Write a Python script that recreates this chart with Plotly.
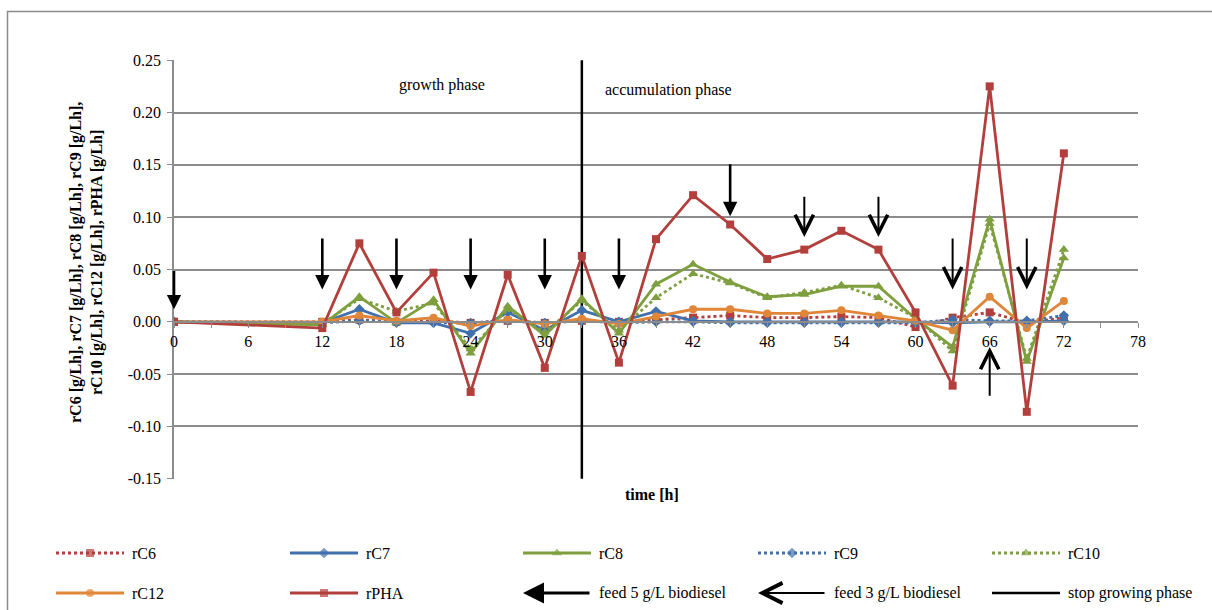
import plotly.graph_objects as go

# Figure size in pixels
W, H = 1212, 610

# Sampling times [h]
hours = [0, 12, 15, 18, 21, 24, 27, 30, 33, 36, 39, 42, 45, 48, 51, 54, 57, 60, 63, 66, 69, 72]

# Rates [g/Lh]
rC6 = [0.000, 0.000, 0.002, 0.000, 0.001, -0.001, 0.001, -0.001, 0.001, 0.000, 0.002,
       0.004, 0.006, 0.004, 0.004, 0.005, 0.004, -0.005, 0.004, 0.009, -0.001, 0.004]
rC7 = [0.000, -0.001, 0.012, -0.001, -0.001, -0.011, 0.009, -0.008, 0.011, 0.000, 0.010,
       0.001, 0.000, 0.000, 0.000, 0.000, 0.000, 0.000, -0.001, 0.000, 0.000, 0.001]
rC8 = [0.000, -0.003, 0.024, -0.001, 0.021, -0.030, 0.015, -0.013, 0.022, -0.011, 0.036,
       0.055, 0.038, 0.024, 0.026, 0.034, 0.034, 0.003, -0.024, 0.098, -0.038, 0.061]
rC9 = [0.000, -0.001, 0.001, 0.000, -0.001, -0.001, 0.001, -0.001, 0.001, -0.001, 0.000,
       0.000, -0.001, -0.001, -0.001, -0.001, -0.001, -0.001, 0.002, 0.001, 0.001, 0.006]
rC10 = [0.000, -0.002, 0.022, 0.010, 0.018, -0.026, 0.012, -0.010, 0.020, -0.008, 0.023,
        0.046, 0.037, 0.023, 0.028, 0.035, 0.023, 0.004, -0.028, 0.094, -0.035, 0.069]
rC12 = [0.000, 0.000, 0.006, 0.001, 0.004, -0.004, 0.002, -0.002, 0.003, -0.002, 0.005,
        0.012, 0.012, 0.008, 0.008, 0.011, 0.006, 0.001, -0.008, 0.024, -0.006, 0.020]
rPHA = [0.000, -0.006, 0.075, 0.009, 0.047, -0.067, 0.045, -0.044, 0.063, -0.039, 0.079,
        0.121, 0.093, 0.060, 0.069, 0.087, 0.069, 0.009, -0.061, 0.225, -0.086, 0.161]

# Feeding events: time, arrow tail and arrow tip (y values)
feed5_hours = [0, 12, 18, 24, 30, 36, 45]
feed5_tail = [0.050, 0.081, 0.081, 0.081, 0.081, 0.081, 0.152]
feed5_tip = [0.012, 0.031, 0.031, 0.031, 0.031, 0.031, 0.101]
feed3_hours = [51, 57, 63, 66, 69]
feed3_tail = [0.121, 0.121, 0.081, -0.072, 0.081]
feed3_tip = [0.081, 0.081, 0.031, -0.024, 0.031]

# End of the growth phase [h]
stop_growth_h = 33

# Axis ticks
x_ticks = [0, 6, 12, 18, 24, 30, 36, 42, 48, 54, 60, 66, 72, 78]
y_ticks = [-0.15, -0.10, -0.05, 0.00, 0.05, 0.10, 0.15, 0.20, 0.25]
y_ticklabels = ["-0.15", "-0.10", "-0.05", "0.00", "0.05", "0.10", "0.15", "0.20", "0.25"]

RED = "#B23F3C"
BLUE = "#4071AE"
GREEN = "#7E9F3E"
ORANGE = "#DF8639"
GRID = "#8C8C8C"
FONT = "Liberation Serif, Times New Roman, serif"

series = [
    ("rC6", rC6, RED, "dot", "square", 8),
    ("rC7", rC7, BLUE, "solid", "diamond", 8),
    ("rC8", rC8, GREEN, "solid", "triangle-up", 9),
    ("rC9", rC9, BLUE, "dot", "diamond", 8),
    ("rC10", rC10, GREEN, "dot", "triangle-up", 9),
    ("rC12", rC12, ORANGE, "solid", "circle", 8),
    ("rPHA", rPHA, RED, "solid", "square", 8),
]


def px(x):
    """Pixel column -> paper fraction."""
    return x / W


def py(y):
    """Pixel row -> paper fraction."""
    return 1 - y / H


# Plot-area box in pixels
PL, PR, PT, PB = 174, 1138, 60, 479
x_dom = [px(PL), px(PR)]
y_dom = [py(PB), py(PT)]
y_lo, y_hi = y_ticks[0], y_ticks[-1]
x_axis_pos = y_dom[0] + (0 - y_lo) / (y_hi - y_lo) * (y_dom[1] - y_dom[0])

fig = go.Figure()

for name, vals, color, dash, symbol, size in series:
    fig.add_trace(go.Scatter(
        x=hours, y=vals, name=name, mode="lines+markers",
        line=dict(color=color, width=2.8, dash=dash),
        marker=dict(symbol=symbol, size=size, color=color, line=dict(width=0)),
        xaxis="x", yaxis="y", showlegend=False,
    ))

# Vertical marker for the end of the growth phase
fig.add_shape(type="line", xref="x", yref="y", x0=stop_growth_h, x1=stop_growth_h,
              y0=y_lo, y1=y_hi, line=dict(color="black", width=2.5), layer="between")

annotations = []
for h, tail, tip in zip(feed5_hours, feed5_tail, feed5_tip):
    annotations.append(dict(x=h, y=tip, ax=h, ay=tail, xref="x", yref="y", axref="x", ayref="y",
                            text="", showarrow=True, arrowhead=2, arrowsize=1.1, arrowwidth=2.6,
                            arrowcolor="black", standoff=0))
for h, tail, tip in zip(feed3_hours, feed3_tail, feed3_tip):
    annotations.append(dict(x=h, y=tip, ax=h, ay=tail, xref="x", yref="y", axref="x", ayref="y",
                            text="", showarrow=True, arrowhead=5, arrowsize=1.8, arrowwidth=2.0,
                            arrowcolor="black", standoff=0))

annotations += [
    dict(x=21.7, y=0.226, xref="x", yref="y", text="growth phase", showarrow=False,
         xanchor="center", yanchor="middle", font=dict(family=FONT, size=16, color="black")),
    dict(x=40.0, y=0.222, xref="x", yref="y", text="accumulation phase", showarrow=False,
         xanchor="center", yanchor="middle", font=dict(family=FONT, size=16, color="black")),
    dict(x=px(652), y=py(494), xref="paper", yref="paper", text="<b>time [h]</b>", showarrow=False,
         xanchor="center", yanchor="middle", font=dict(family=FONT, size=16, color="black")),
    dict(x=px(86), y=py(263), xref="paper", yref="paper", textangle=-90,
         xanchor="center", yanchor="middle",
         text="<b>rC6 [g/Lh], rC7 [g/Lh], rC8 [g/Lh], rC9 [g/Lh],<br>rC10 [g/Lh], rC12 [g/Lh], rPHA [g/Lh]</b>",
         showarrow=False, font=dict(family=FONT, size=16, color="black")),
]

# Legend, laid out on an overlay axis scaled in pixels
col_x = [56, 290, 523, 758, 992]
row_y = [553, 593]
SAMPLE = 68
legend_items = [
    (0, 0, "series", series[0]), (0, 1, "series", series[1]), (0, 2, "series", series[2]),
    (0, 3, "series", series[3]), (0, 4, "series", series[4]),
    (1, 0, "series", series[5]), (1, 1, "series", series[6]),
    (1, 2, "feed5", "feed 5 g/L biodiesel"), (1, 3, "feed3", "feed 3 g/L biodiesel"),
    (1, 4, "stop", "stop growing phase"),
]
for r, c, kind, item in legend_items:
    x0, yy = col_x[c], row_y[r]
    x1 = x0 + SAMPLE
    if kind == "series":
        name, _, color, dash, symbol, size = item
        label = name
        fig.add_trace(go.Scatter(
            x=[x0, (x0 + x1) / 2, x1], y=[yy, yy, yy], mode="lines+markers",
            line=dict(color=color, width=2.8, dash=dash),
            marker=dict(symbol=symbol, size=[0, size, 0], color=color, line=dict(width=0)),
            xaxis="x2", yaxis="y2", showlegend=False, hoverinfo="skip",
        ))
    elif kind == "stop":
        label = item
        fig.add_trace(go.Scatter(
            x=[x0, x1], y=[yy, yy], mode="lines", line=dict(color="black", width=2.5),
            xaxis="x2", yaxis="y2", showlegend=False, hoverinfo="skip",
        ))
    else:
        label = item
        if kind == "feed5":
            head = dict(arrowhead=2, arrowsize=1.4, arrowwidth=3.0)
        else:
            head = dict(arrowhead=5, arrowsize=1.8, arrowwidth=2.2)
        annotations.append(dict(x=x0, y=yy, ax=x1, ay=yy, xref="x2", yref="y2", axref="x2",
                                ayref="y2", text="", showarrow=True, arrowcolor="black",
                                standoff=0, **head))
    annotations.append(dict(x=x1 + 6, y=yy, xref="x2", yref="y2", text=label, showarrow=False,
                            xanchor="left", yanchor="middle",
                            font=dict(family=FONT, size=16, color="black")))

# Outer chart frame
fig.add_shape(type="rect", xref="paper", yref="paper", x0=px(7.5), y0=py(11.5), x1=1.05, y1=-0.05,
              line=dict(color=GRID, width=1.5), fillcolor="rgba(0,0,0,0)", layer="below")

fig.update_layout(
    template="none",
    width=W, height=H,
    margin=dict(l=0, r=0, t=0, b=0, pad=0, autoexpand=False),
    paper_bgcolor="white", plot_bgcolor="rgba(0,0,0,0)",
    showlegend=False,
    font=dict(family=FONT, size=16, color="black"),
    annotations=annotations,
    xaxis=dict(
        domain=x_dom, range=[0, 78], anchor="free", position=x_axis_pos, automargin=False,
        tickmode="array", tickvals=x_ticks, ticks="outside", ticklen=5, tickwidth=1.3,
        tickcolor=GRID, showline=True, linecolor=GRID, linewidth=1.5,
        showgrid=False, zeroline=False, tickfont=dict(family=FONT, size=16, color="black"),
        minor=dict(tickvals=[3 + 6 * i for i in range(13)], ticks="outside", ticklen=5,
                   tickcolor=GRID, tickwidth=1.3, showgrid=False),
        fixedrange=True,
    ),
    yaxis=dict(
        domain=y_dom, range=[y_lo - 0.0002, y_hi + 0.0002], anchor="x", automargin=False,
        tickmode="array", tickvals=y_ticks, ticktext=y_ticklabels,
        ticks="outside", ticklen=5, tickwidth=1.3, tickcolor=GRID, ticklabelstandoff=3,
        showline=True, linecolor=GRID, linewidth=1.5,
        showgrid=True, gridcolor=GRID, gridwidth=1.5, zeroline=False,
        tickfont=dict(family=FONT, size=16, color="black"), fixedrange=True,
    ),
    xaxis2=dict(domain=[0, 1], range=[0, W], anchor="y2", visible=False, automargin=False,
                fixedrange=True),
    yaxis2=dict(domain=[0, 1], range=[H, 0], anchor="x2", visible=False, automargin=False,
                fixedrange=True),
)

fig.write_html("out.html")
